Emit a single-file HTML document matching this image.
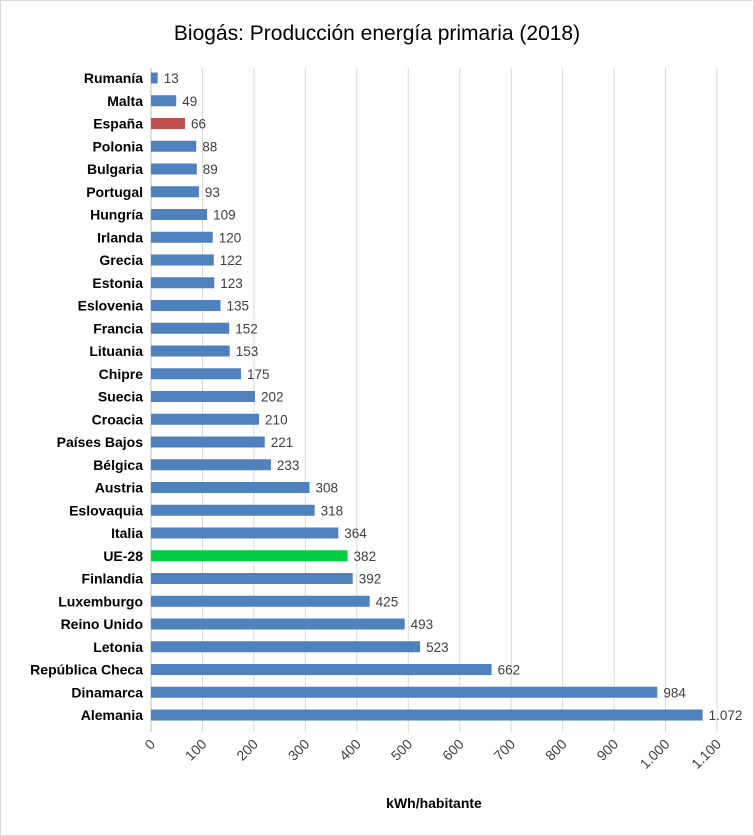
<!DOCTYPE html>
<html><head><meta charset="utf-8"><style>
body{margin:0;background:#fff;}
svg{display:block;font-family:"Liberation Sans",sans-serif;}
</style></head><body>
<svg width="754" height="836">
<rect x="0.5" y="0.5" width="753" height="835" fill="#fff" stroke="#d9d9d9"/>
<text x="377" y="40" text-anchor="middle" font-size="21" fill="#000">Biogás: Producción energía primaria (2018)</text>
<g id="grid"></g><g id="bars"></g><g id="ticks"></g>
<text x="434" y="808" text-anchor="middle" font-size="14" font-weight="bold">kWh/habitante</text>
</svg>
<script>
const categories=["Rumanía","Malta","España","Polonia","Bulgaria","Portugal","Hungría","Irlanda","Grecia","Estonia","Eslovenia","Francia","Lituania","Chipre","Suecia","Croacia","Países Bajos","Bélgica","Austria","Eslovaquia","Italia","UE-28","Finlandia","Luxemburgo","Reino Unido","Letonia","República Checa","Dinamarca","Alemania"];
const values=[13,49,66,88,89,93,109,120,122,123,135,152,153,175,202,210,221,233,308,318,364,382,392,425,493,523,662,984,1072];
const tickValues=[0,100,200,300,400,500,600,700,800,900,1000,1100];
const tickLabels=["0","100","200","300","400","500","600","700","800","900","1.000","1.100"];
const ns="http://www.w3.org/2000/svg";
const x0=151,x1=717,xmax=1100,yTop=78,yStep=22.75,plotTop=68,plotBot=727;
function xs(v){return x0+(v/xmax)*(x1-x0);}
function ys(i){return yTop+i*yStep;}
function fmt(v){return v>=1000?Math.floor(v/1000)+"."+String(v%1000).padStart(3,"0"):String(v);}
function mk(t,a,p){const e=document.createElementNS(ns,t);for(const k in a)e.setAttribute(k,a[k]);p.appendChild(e);return e;}
const grid=document.getElementById("grid"),bars=document.getElementById("bars"),ticks=document.getElementById("ticks");
tickValues.forEach((v,i)=>{
 const l=mk("line",{x1:xs(v),x2:xs(v),y1:plotTop,y2:plotBot+5,stroke:v===0?"#bfbfbf":"#d9d9d9","stroke-width":1},grid);
 
 
 const x=xs(v)+5,y=plotBot+18;
 const t=mk("text",{x:x,y:y,"text-anchor":"end","font-size":14,fill:"#404040",transform:`rotate(-45 ${x} ${y})`},ticks);
 t.textContent=tickLabels[i];
 
 
});
categories.forEach((c,i)=>{
 const y=ys(i);
 const col=c==="España"?"#c0504d":c==="UE-28"?"#00cc44":"#4f81bd";
 const r=mk("rect",{x:x0,y:y-5.5,width:xs(values[i])-x0,height:11,fill:col},bars);
 
 
 const lb=mk("text",{x:143,y:y+5,"text-anchor":"end","font-size":14,"font-weight":"bold",fill:"#000"},bars);
 lb.textContent=c;
 
 
 const vl=mk("text",{x:xs(values[i])+6,y:y+5,"font-size":13.5,fill:"#404040"},bars);
 vl.textContent=fmt(values[i]);
 
 
});
</script>
</body></html>
